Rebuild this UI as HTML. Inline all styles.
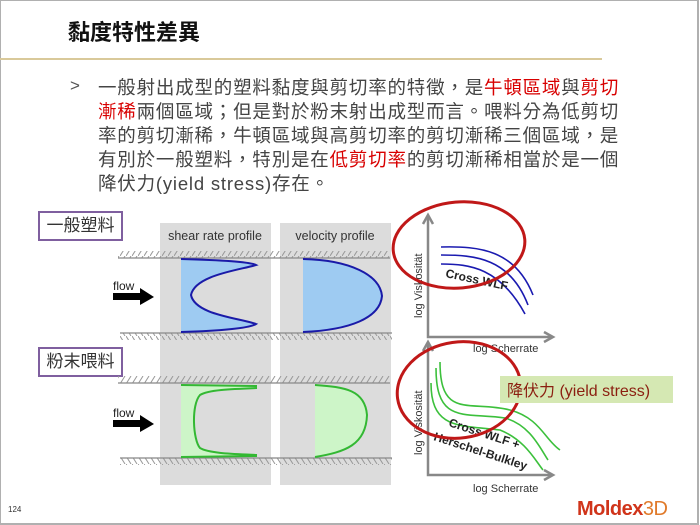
<!DOCTYPE html>
<html><head><meta charset="utf-8"><style>
html,body{margin:0;padding:0;background:#fff;}
body{width:700px;height:525px;position:relative;overflow:hidden;font-family:"Liberation Sans","Noto Sans CJK TC",sans-serif;}
.frame{position:absolute;left:0;top:0;width:696px;height:522px;border:1px solid #b0b0b0;border-right:2px solid #b0b0b0;border-bottom:2px solid #b0b0b0;}
.title{position:absolute;left:68px;top:18px;font-size:22px;color:#111;font-weight:bold;letter-spacing:0px;line-height:30px;white-space:nowrap;}
.gold{position:absolute;left:0;top:58px;width:602px;height:2px;background:#d9c99a;}
.bul{position:absolute;left:70px;top:76px;font-size:17px;color:#555;}
.txt{position:absolute;left:98px;top:76px;font-size:18.5px;line-height:24px;color:#444;letter-spacing:0.8px;white-space:nowrap;}
.r{color:#d80000;}
.lbl{position:absolute;border:2px solid #7f5f9f;font-size:17px;color:#333;padding:0 3px;height:26px;line-height:26px;white-space:nowrap;box-sizing:border-box;text-align:center;}
</style></head><body>
<div class="frame"></div>
<div class="title">黏度特性差異</div>
<div class="gold"></div>
<div class="bul">&gt;</div>
<div class="txt">一般射出成型的塑料黏度與剪切率的特徵，是<span class="r">牛頓區域</span>與<span class="r">剪切</span><br><span class="r">漸稀</span>兩個區域；但是對於粉末射出成型而言。喂料分為低剪切<br>率的剪切漸稀，牛頓區域與高剪切率的剪切漸稀三個區域，是<br>有別於一般塑料，特別是在<span class="r">低剪切率</span>的剪切漸稀相當於是一個<br>降伏力(yield stress)存在。</div>
<div class="lbl" style="left:38px;top:211px;width:85px;height:30px;line-height:26px;">一般塑料</div>
<div class="lbl" style="left:38px;top:347px;width:85px;height:30px;line-height:26px;">粉末喂料</div>
<svg width="700" height="525" style="position:absolute;left:0;top:0" xmlns="http://www.w3.org/2000/svg">
<defs>
<pattern id="hU" width="6" height="8" patternUnits="userSpaceOnUse"><line x1="0" y1="8" x2="5" y2="0" stroke="#999" stroke-width="1"/></pattern>
<pattern id="hD" width="6" height="8" patternUnits="userSpaceOnUse"><line x1="0" y1="0" x2="5" y2="8" stroke="#999" stroke-width="1"/></pattern>
</defs>
<rect x="160" y="223" width="111" height="262" fill="#dcdcdc"/>
<rect x="280" y="223" width="111" height="262" fill="#dcdcdc"/>
<text x="215" y="240" font-size="12.5" text-anchor="middle" fill="#333">shear rate profile</text>
<text x="335" y="240" font-size="12.5" text-anchor="middle" fill="#333">velocity profile</text>
<rect x="118" y="251" width="272" height="7" fill="url(#hU)"/><line x1="118" y1="258" x2="390" y2="258" stroke="#888" stroke-width="1.2"/>
<rect x="120" y="333" width="272" height="7" fill="url(#hD)"/><line x1="120" y1="333" x2="392" y2="333" stroke="#888" stroke-width="1.2"/>
<rect x="118" y="376" width="272" height="7" fill="url(#hU)"/><line x1="118" y1="383" x2="390" y2="383" stroke="#888" stroke-width="1.2"/>
<rect x="120" y="458" width="272" height="7" fill="url(#hD)"/><line x1="120" y1="458" x2="392" y2="458" stroke="#888" stroke-width="1.2"/>
<path d="M181 259 C220 260 250 262 256 265 C240 270 195 275 191 295 C195 315 240 318 256 324 C250 328 220 331 181 332 Z" fill="#9ecbf2" stroke="none"/>
<path d="M181 259 C220 260 250 262 256 265 C240 270 195 275 191 295 C195 315 240 318 256 324 C250 328 220 331 181 332" fill="none" stroke="#1a1aa8" stroke-width="2"/>
<path d="M303 259 C350 260 380 275 382 296 C380 318 350 330 303 332 Z" fill="#9ecbf2" stroke="none"/>
<path d="M303 259 C350 260 380 275 382 296 C380 318 350 330 303 332" fill="none" stroke="#1a1aa8" stroke-width="2"/>
<path d="M181 385 L257 385 L257 388 C230 389 208 390 200 395 C191 405 193 440 200 448 C210 454 240 454 257 455 L257 457 L181 457 Z" fill="#cdf5c8"/>
<path d="M181 385 L257 386 M257 388 C230 389 208 390 200 395 C191 405 193 440 200 448 C210 454 240 454 257 455 M181 457 L257 456" fill="none" stroke="#33b833" stroke-width="2"/>
<path d="M315 385 C345 387 365 390 367 415 C366 445 345 452 315 457 Z" fill="#cdf5c8"/>
<path d="M315 385 C345 387 365 390 367 415 C366 445 345 452 315 457" fill="none" stroke="#33b833" stroke-width="2"/>
<text x="113" y="290" font-size="12" fill="#222">flow</text>
<path d="M113 293 L140 293 L140 288 L154 297 L140 305 L140 300 L113 300 Z" fill="#000"/>
<text x="113" y="417" font-size="12" fill="#222">flow</text>
<path d="M113 420 L140 420 L140 415 L154 424 L140 432 L140 427 L113 427 Z" fill="#000"/>
<g stroke="#888" stroke-width="2.5" fill="none">
<path d="M428 217 L428 337 L551 337"/><path d="M423 224 L428 215 L433 224"/><path d="M544 332 L553 337 L544 342"/>
<path d="M428 344 L428 475 L551 475"/><path d="M423 351 L428 342 L433 351"/><path d="M544 470 L553 475 L544 480"/>
</g>
<g stroke="#1a1ab0" stroke-width="1.6" fill="none">
<path d="M441 247 C480 246 515 250 533 295"/>
<path d="M441 255 C475 255 510 258 528 305"/>
<path d="M441 264 C470 264 500 268 525 314"/>
</g>
<text x="445" y="277" font-size="12" font-weight="bold" fill="#222" transform="rotate(12 445 277)">Cross WLF</text>
<text transform="translate(422 318) rotate(-90)" font-size="11" fill="#333">log Viskosität</text>
<text x="473" y="352" font-size="11" fill="#333">log Scherrate</text>
<ellipse cx="459" cy="245" rx="66" ry="43" fill="none" stroke="#c01818" stroke-width="3" transform="rotate(-5 459 245)"/>
<g stroke="#3cc03c" stroke-width="1.6" fill="none">
<path d="M440 362 C440 420 470 400 510 410 C540 418 545 440 560 450"/>
<path d="M436 368 C436 425 465 412 505 418 C530 425 540 448 548 460"/>
<path d="M431 383 C431 430 460 425 500 430 C525 440 535 460 543 470"/>
</g>
<text x="448" y="426" font-size="12" font-weight="bold" fill="#222" transform="rotate(18 448 426)">Cross WLF +</text>
<text x="433" y="440" font-size="12" font-weight="bold" fill="#222" transform="rotate(18 433 440)">Herschel-Bulkley</text>
<text transform="translate(422 455) rotate(-90)" font-size="11" fill="#333">log Viskosität</text>
<text x="473" y="492" font-size="11" fill="#333">log Scherrate</text>
<ellipse cx="459" cy="390" rx="62" ry="48" fill="none" stroke="#c01818" stroke-width="3" transform="rotate(-8 459 390)"/>
<rect x="500" y="376" width="173" height="27" fill="#d5e8b3"/>
<text x="507" y="396" font-size="16" fill="#8b1f10">降伏力 (yield stress)</text>
<text x="577" y="515" font-size="20" font-weight="bold" fill="#d0341a" letter-spacing="-0.5">Moldex<tspan fill="#e07a2a" font-weight="normal">3D</tspan></text>
<text x="8" y="512" font-size="8" fill="#333">124</text>
</svg>
</body></html>
